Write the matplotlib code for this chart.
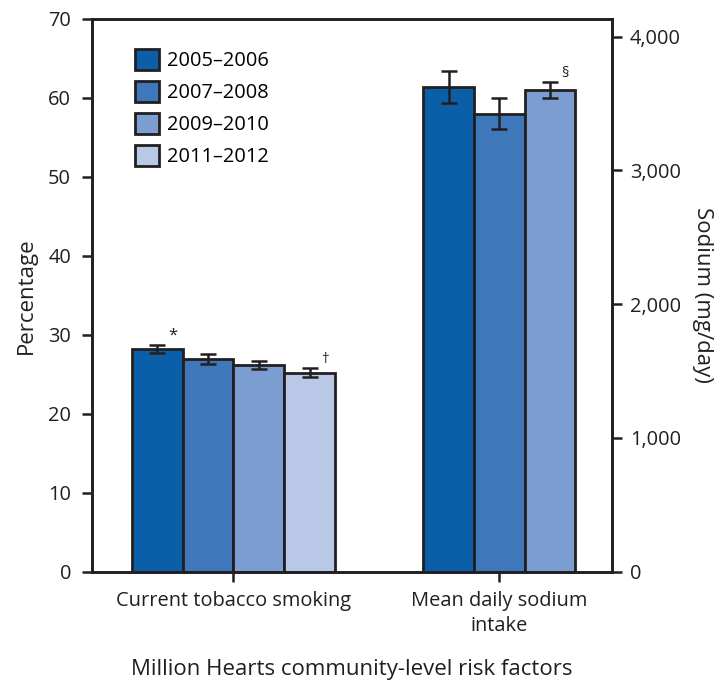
import matplotlib
matplotlib.use("Agg")
import matplotlib.pyplot as plt
import numpy as np
from matplotlib.patches import Patch

plt.rcParams['font.family'] = ['Open Sans', 'DejaVu Sans']

# data
periods = ["2005\u20132006", "2007\u20132008", "2009\u20132010", "2011\u20132012"]
colors = ["#0b5ea8", "#3f78ba", "#7b9dd2", "#b8c8e6"]
categories = ["Current tobacco smoking", "Mean daily sodium\nintake"]
x_label = "Million Hearts community-level risk factors"

smoking_pct = [28.2, 26.9, 26.2, 25.2]
smoking_err = [0.55, 0.65, 0.55, 0.55]
smoking_marks = ["*", "", "", "\u2020"]

sodium_mg = [3620, 3424, 3600]
sodium_err = [120, 113, 58]
sodium_marks = ["", "", "\u00a7"]

pct_ticks = [0, 10, 20, 30, 40, 50, 60, 70]
mg_ticks = [0, 1000, 2000, 3000, 4000]
mg_tick_labels = ["0", "1,000", "2,000", "3,000", "4,000"]

edge = "#231f20"
fs = 14.4
lab_fs = 16
bar_w = 0.191

fig = plt.figure(figsize=(7.28, 6.93), dpi=100)
ax = fig.add_axes([0.1264, 0.175, 0.7143, 0.7976])
ax2 = ax.twinx()

# smoking bars, left axis, centred on x=0
n = len(smoking_pct)
xs = 0 + (np.arange(n) - (n - 1) / 2) * bar_w
ax.bar(xs, smoking_pct, width=bar_w, color=colors[:n], edgecolor=edge, linewidth=2, zorder=2)
ax.errorbar(xs, smoking_pct, yerr=smoking_err, fmt='none', ecolor=edge,
            elinewidth=1.8, capsize=6, capthick=1.8, zorder=3)
for x, y, e, m in zip(xs, smoking_pct, smoking_err, smoking_marks):
    if m:
        ax.annotate(m, (x, y + e), xytext=(11, 1), textcoords='offset points',
                    fontsize=12 if m == "*" else 11, color=edge, ha='center', va='bottom')

# sodium bars, right axis, centred on x=1
k = len(sodium_mg)
xs2 = 1 + (np.arange(k) - (k - 1) / 2) * bar_w
ax2.bar(xs2, sodium_mg, width=bar_w, color=colors[:k], edgecolor=edge, linewidth=2, zorder=2)
ax2.errorbar(xs2, sodium_mg, yerr=sodium_err, fmt='none', ecolor=edge,
             elinewidth=1.8, capsize=6, capthick=1.8, zorder=3)
for x, y, e, m in zip(xs2, sodium_mg, sodium_err, sodium_marks):
    if m:
        ax2.annotate(m, (x, y + e), xytext=(11, 1), textcoords='offset points',
                     fontsize=10.5, color=edge, ha='center', va='bottom')

ax.set_xlim(-0.532, 1.424)
ax.set_ylim(0, 70)
ax2.set_ylim(0, 4131)

ax.set_yticks(pct_ticks)
ax.set_yticklabels([str(t) for t in pct_ticks])
ax2.set_yticks(mg_ticks)
ax2.set_yticklabels(mg_tick_labels)
ax.set_xticks([0, 1])
ax.set_xticklabels(categories, linespacing=1.3)

for a in (ax, ax2):
    for s in a.spines.values():
        s.set_linewidth(1.9)
        s.set_color(edge)
ax.tick_params(axis='y', length=7, width=1.8, pad=8, labelsize=fs, colors=edge)
ax.tick_params(axis='x', length=7, width=1.8, pad=7, labelsize=fs, colors=edge)
ax2.tick_params(axis='y', length=7, width=1.8, pad=6, labelsize=fs, colors=edge)

ax.set_ylabel("Percentage", fontsize=lab_fs, color=edge, labelpad=8)
ax2.set_ylabel("Sodium (mg/day)", fontsize=lab_fs, color=edge, rotation=270, labelpad=23)
ax.set_xlabel(x_label, fontsize=lab_fs, color=edge, labelpad=17)

handles = [Patch(facecolor=c, edgecolor=edge, linewidth=2) for c in colors]
ax2.legend(handles, periods, loc='upper left', bbox_to_anchor=(0.083, 0.945),
           frameon=False, fontsize=fs, handlelength=1.2, handleheight=1.2,
           labelspacing=0.5, handletextpad=0.4, borderpad=0, borderaxespad=0)

fig.savefig("out.png", dpi=100)
